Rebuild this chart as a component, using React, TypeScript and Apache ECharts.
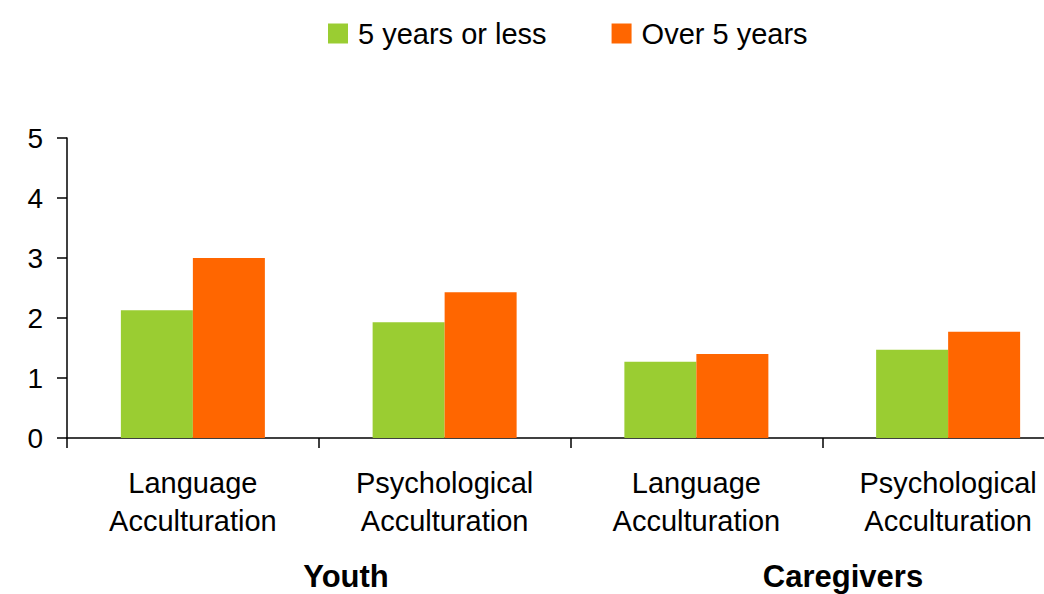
import React, { useEffect, useRef } from "react";
import * as echarts from "echarts";

const categories = ["youth-language", "youth-psych", "care-language", "care-psych"];
const categoryLabels = [
  "Language\nAcculturation",
  "Psychological\nAcculturation",
  "Language\nAcculturation",
  "Psychological\nAcculturation",
];
const groupLabels = ["Youth", "Caregivers"];
const seriesNames = ["5 years or less", "Over 5 years"];
const fiveOrLess = [2.13, 1.93, 1.27, 1.47];
const overFive = [3.0, 2.43, 1.4, 1.77];
const colors = ["#9ACD32", "#FF6600"];

const FONT = "'Liberation Sans', Arial, sans-serif";

export default function App() {
  const ref = useRef<HTMLDivElement>(null);
  useEffect(() => {
    if (!ref.current) return;
    const chart = echarts.init(ref.current, null, { renderer: "svg" });
    chart.setOption({
      animation: false,
      backgroundColor: "#ffffff",
      textStyle: { fontFamily: FONT },
      legend: {
        left: 328,
        top: 19,
        padding: 0,
        itemWidth: 20,
        itemHeight: 20,
        itemGap: 65,
        icon: "rect",
        data: seriesNames,
        textStyle: { fontSize: 29, color: "#000", fontFamily: FONT, padding: [0, 0, 0, 5] },
      },
      grid: { left: 67, top: 138, bottom: 156, right: 0, containLabel: false },
      xAxis: {
        type: "category",
        data: categories,
        axisLine: { show: true, lineStyle: { color: "#000", width: 1.5 } },
        axisTick: { show: true, length: 10, lineStyle: { color: "#000", width: 1.5 } },
        axisLabel: {
          interval: 0,
          margin: 26,
          fontSize: 29,
          lineHeight: 38,
          color: "#000",
          fontFamily: FONT,
          formatter: (_v: string, i: number) => categoryLabels[i],
        },
      },
      yAxis: {
        type: "value",
        min: 0,
        max: 5,
        interval: 1,
        splitLine: { show: false },
        axisLine: { show: true, lineStyle: { color: "#000", width: 1.5 } },
        axisTick: { show: true, length: 10, lineStyle: { color: "#000", width: 1.5 } },
        axisLabel: { margin: 24, fontSize: 28, color: "#000", fontFamily: FONT },
      },
      series: [
        {
          name: seriesNames[0],
          type: "bar",
          data: fiveOrLess,
          barWidth: 72,
          barGap: "0%",
          itemStyle: { color: colors[0] },
        },
        {
          name: seriesNames[1],
          type: "bar",
          data: overFive,
          barWidth: 72,
          barGap: "0%",
          itemStyle: { color: colors[1] },
        },
      ],
      graphic: [
        {
          type: "text",
          x: 346,
          y: 592,
          style: {
            text: groupLabels[0],
            font: `bold 31px ${FONT}`,
            fill: "#000",
            align: "center",
            verticalAlign: "bottom",
          },
        },
        {
          type: "text",
          x: 843,
          y: 592,
          style: {
            text: groupLabels[1],
            font: `bold 31px ${FONT}`,
            fill: "#000",
            align: "center",
            verticalAlign: "bottom",
          },
        },
      ],
    });
    return () => chart.dispose();
  }, []);
  return (
    <div
      style={{ position: "fixed", left: 0, top: 0, width: 1044, height: 594, overflow: "hidden", background: "#fff" }}
    >
      <div ref={ref} style={{ position: "absolute", left: 0, top: 0, width: 1074, height: 594 }} />
    </div>
  );
}
